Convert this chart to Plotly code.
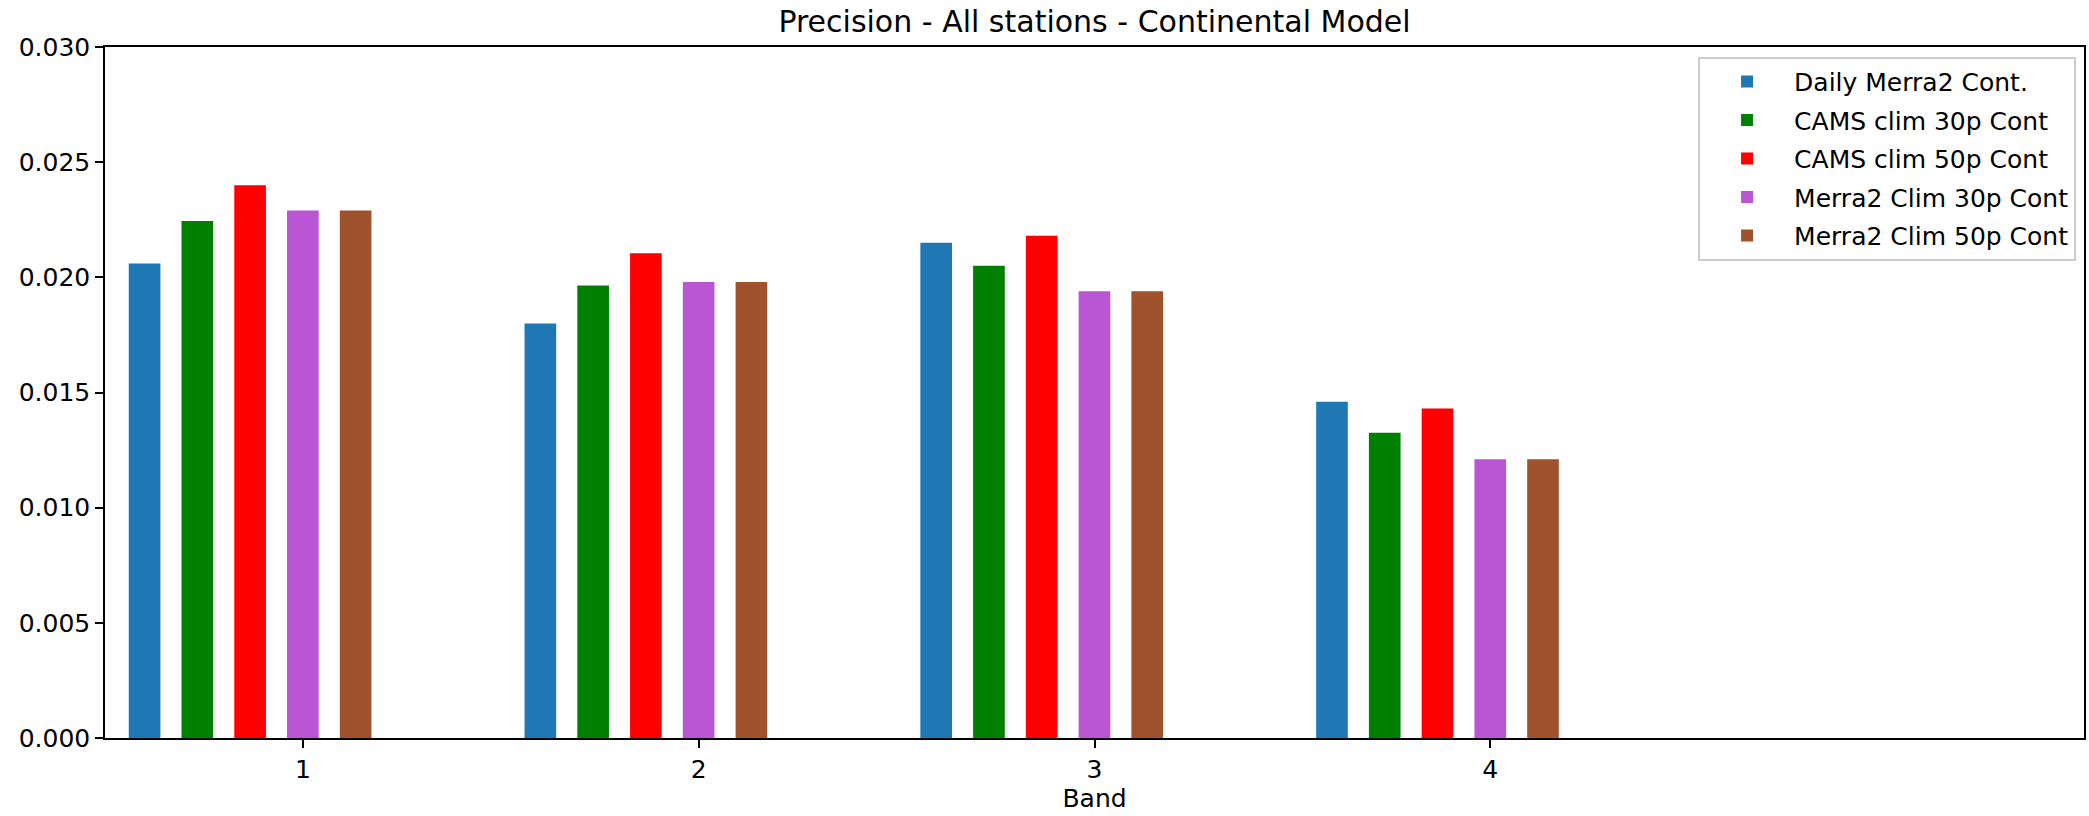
import plotly.graph_objects as go

bands = [1, 2, 3, 4]
series_names = ["Daily Merra2 Cont.", "CAMS clim 30p Cont", "CAMS clim 50p Cont",
                "Merra2 Clim 30p Cont", "Merra2 Clim 50p Cont"]
daily_merra2 = [0.0206, 0.0180, 0.0215, 0.0146]
cams_30p = [0.02245, 0.01965, 0.0205, 0.01325]
cams_50p = [0.0240, 0.02105, 0.0218, 0.0143]
merra2_clim_30p = [0.0229, 0.0198, 0.0194, 0.0121]
merra2_clim_50p = [0.0229, 0.0198, 0.0194, 0.0121]
values = [daily_merra2, cams_30p, cams_50p, merra2_clim_30p, merra2_clim_50p]
colors = ["#1f77b4", "#008000", "#ff0000", "#ba55d3", "#a0522d"]

y_ticks = [0.0, 0.005, 0.010, 0.015, 0.020, 0.025, 0.030]
y_tick_labels = ["0.000", "0.005", "0.010", "0.015", "0.020", "0.025", "0.030"]

bar_width = 0.08
bar_step = 0.1333

fig = go.Figure()
for i, (name, vals, col) in enumerate(zip(series_names, values, colors)):
    center = -0.4 + i * bar_step
    fig.add_trace(go.Bar(
        x=bands, y=vals, name=name, legendgroup=name,
        width=bar_width, offset=center - bar_width / 2,
        marker=dict(color=col, line=dict(width=0)),
    ))

font_family = "DejaVu Sans"
fig.update_layout(
    width=2089, height=816,
    barmode="overlay",
    plot_bgcolor="white", paper_bgcolor="white",
    margin=dict(l=105, r=3, t=47, b=78),
    font=dict(family=font_family, size=25, color="black"),
    title=dict(text="Precision - All stations - Continental Model",
               x=0.5, xref="paper", xanchor="center",
               y=1 - 21 / 816, yref="container", yanchor="middle",
               font=dict(size=30, family=font_family, color="black")),
    xaxis=dict(range=[0.5, 5.5], tickmode="array", tickvals=bands,
               ticktext=[str(b) for b in bands],
               showline=True, mirror=True, linecolor="black", linewidth=1.5,
               ticks="outside", ticklen=8, tickwidth=1.5, tickcolor="black",
               showgrid=False, zeroline=False,
               title=dict(text="Band", standoff=6, font=dict(size=25))),
    yaxis=dict(range=[0, 0.030], tickmode="array", tickvals=y_ticks,
               ticktext=y_tick_labels,
               showline=True, mirror=True, linecolor="black", linewidth=1.5,
               ticks="outside", ticklen=8, tickwidth=1.5, tickcolor="black",
               showgrid=False, zeroline=False),
    legend=dict(x=0.996, y=0.986, xanchor="right", yanchor="top",
                bgcolor="white", bordercolor="#cccccc", borderwidth=2,
                font=dict(size=25, family=font_family),
                itemwidth=84, tracegroupgap=3, traceorder="grouped"),
    showlegend=True,
)

fig.write_html("out.html")
